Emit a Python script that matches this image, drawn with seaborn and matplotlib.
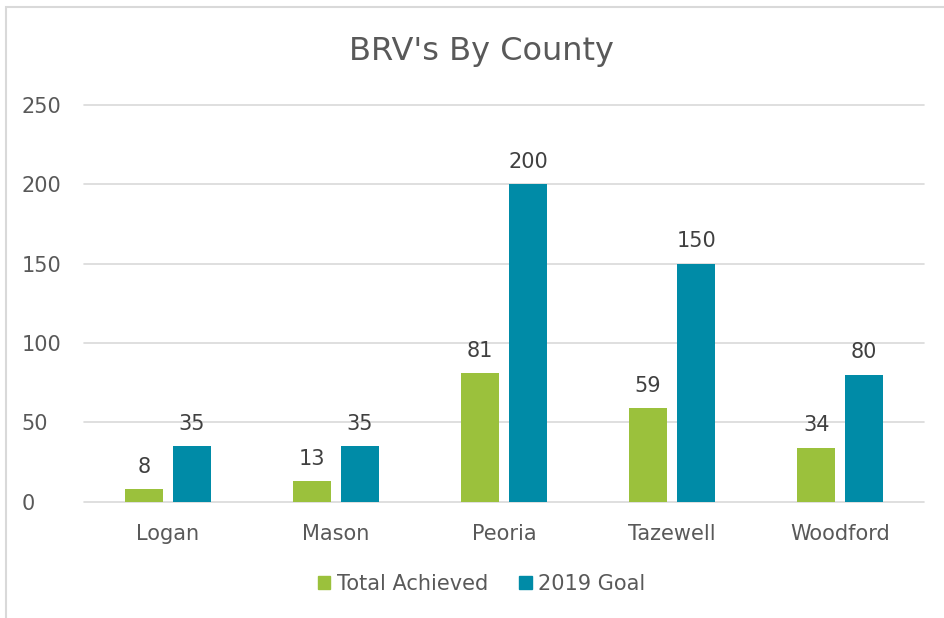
import matplotlib
matplotlib.use('Agg')
import matplotlib.pyplot as plt
from matplotlib.patches import Rectangle
import seaborn as sns
import pandas as pd

counties = ["Logan", "Mason", "Peoria", "Tazewell", "Woodford"]
total_achieved = [8, 13, 81, 59, 34]
goal_2019 = [35, 35, 200, 150, 80]
series_names = ["Total Achieved", "2019 Goal"]
colors = ["#9BC13C", "#008BA7"]
yticks = [0, 50, 100, 150, 200, 250]

df = pd.DataFrame({
    "County": counties * 2,
    "Value": total_achieved + goal_2019,
    "Series": [series_names[0]] * len(counties) + [series_names[1]] * len(counties),
})

sns.set_theme(style="white")
plt.rcParams['font.family'] = ['DejaVu Sans']
text_color = "#595959"

fig = plt.figure(figsize=(9.44, 6.18), dpi=100)
ax = fig.add_axes([0.089, 0.188, 0.890, 0.642])

sns.barplot(data=df, x="County", y="Value", hue="Series", palette=colors,
            width=0.57, gap=0.21, saturation=1, linewidth=0, ax=ax, legend=True)

for container in ax.containers:
    ax.bar_label(container, padding=9, fontsize=15, color="#404040")

ax.set_ylim(0, 250)
ax.set_xlim(-0.5, len(counties) - 0.5)
ax.set_yticks(yticks)
ax.yaxis.grid(True, color="#D9D9D9", linewidth=1.2)
for gl in ax.get_ygridlines():
    gl.set_clip_on(False)
ax.set_axisbelow(True)
for s in ax.spines.values():
    s.set_visible(False)
ax.set_xlabel("")
ax.set_ylabel("")
ax.tick_params(axis='both', labelsize=15, colors=text_color, length=0)
ax.tick_params(axis='x', pad=16)
ax.tick_params(axis='y', pad=45)
for lbl in ax.get_yticklabels():
    lbl.set_horizontalalignment('left')

fig.text(0.51, 0.917, "BRV's By County", ha='center', va='center',
         fontsize=23, color=text_color)

ax.legend_.remove()
handles = [Rectangle((0, 0), 1, 1, color=c) for c in colors]
leg = fig.legend(handles, series_names, loc='center', bbox_to_anchor=(0.51, 0.055),
                 ncol=2, frameon=False, fontsize=15, handlelength=0.6, handleheight=0.6,
                 handletextpad=0.3, columnspacing=1.5)
for t in leg.get_texts():
    t.set_color(text_color)

fig.patches.append(Rectangle((0.006, -0.02), 1.1, 1.008, transform=fig.transFigure,
                             fill=False, edgecolor="#D9D9D9", linewidth=1.5))

fig.savefig("out.png", dpi=100)
